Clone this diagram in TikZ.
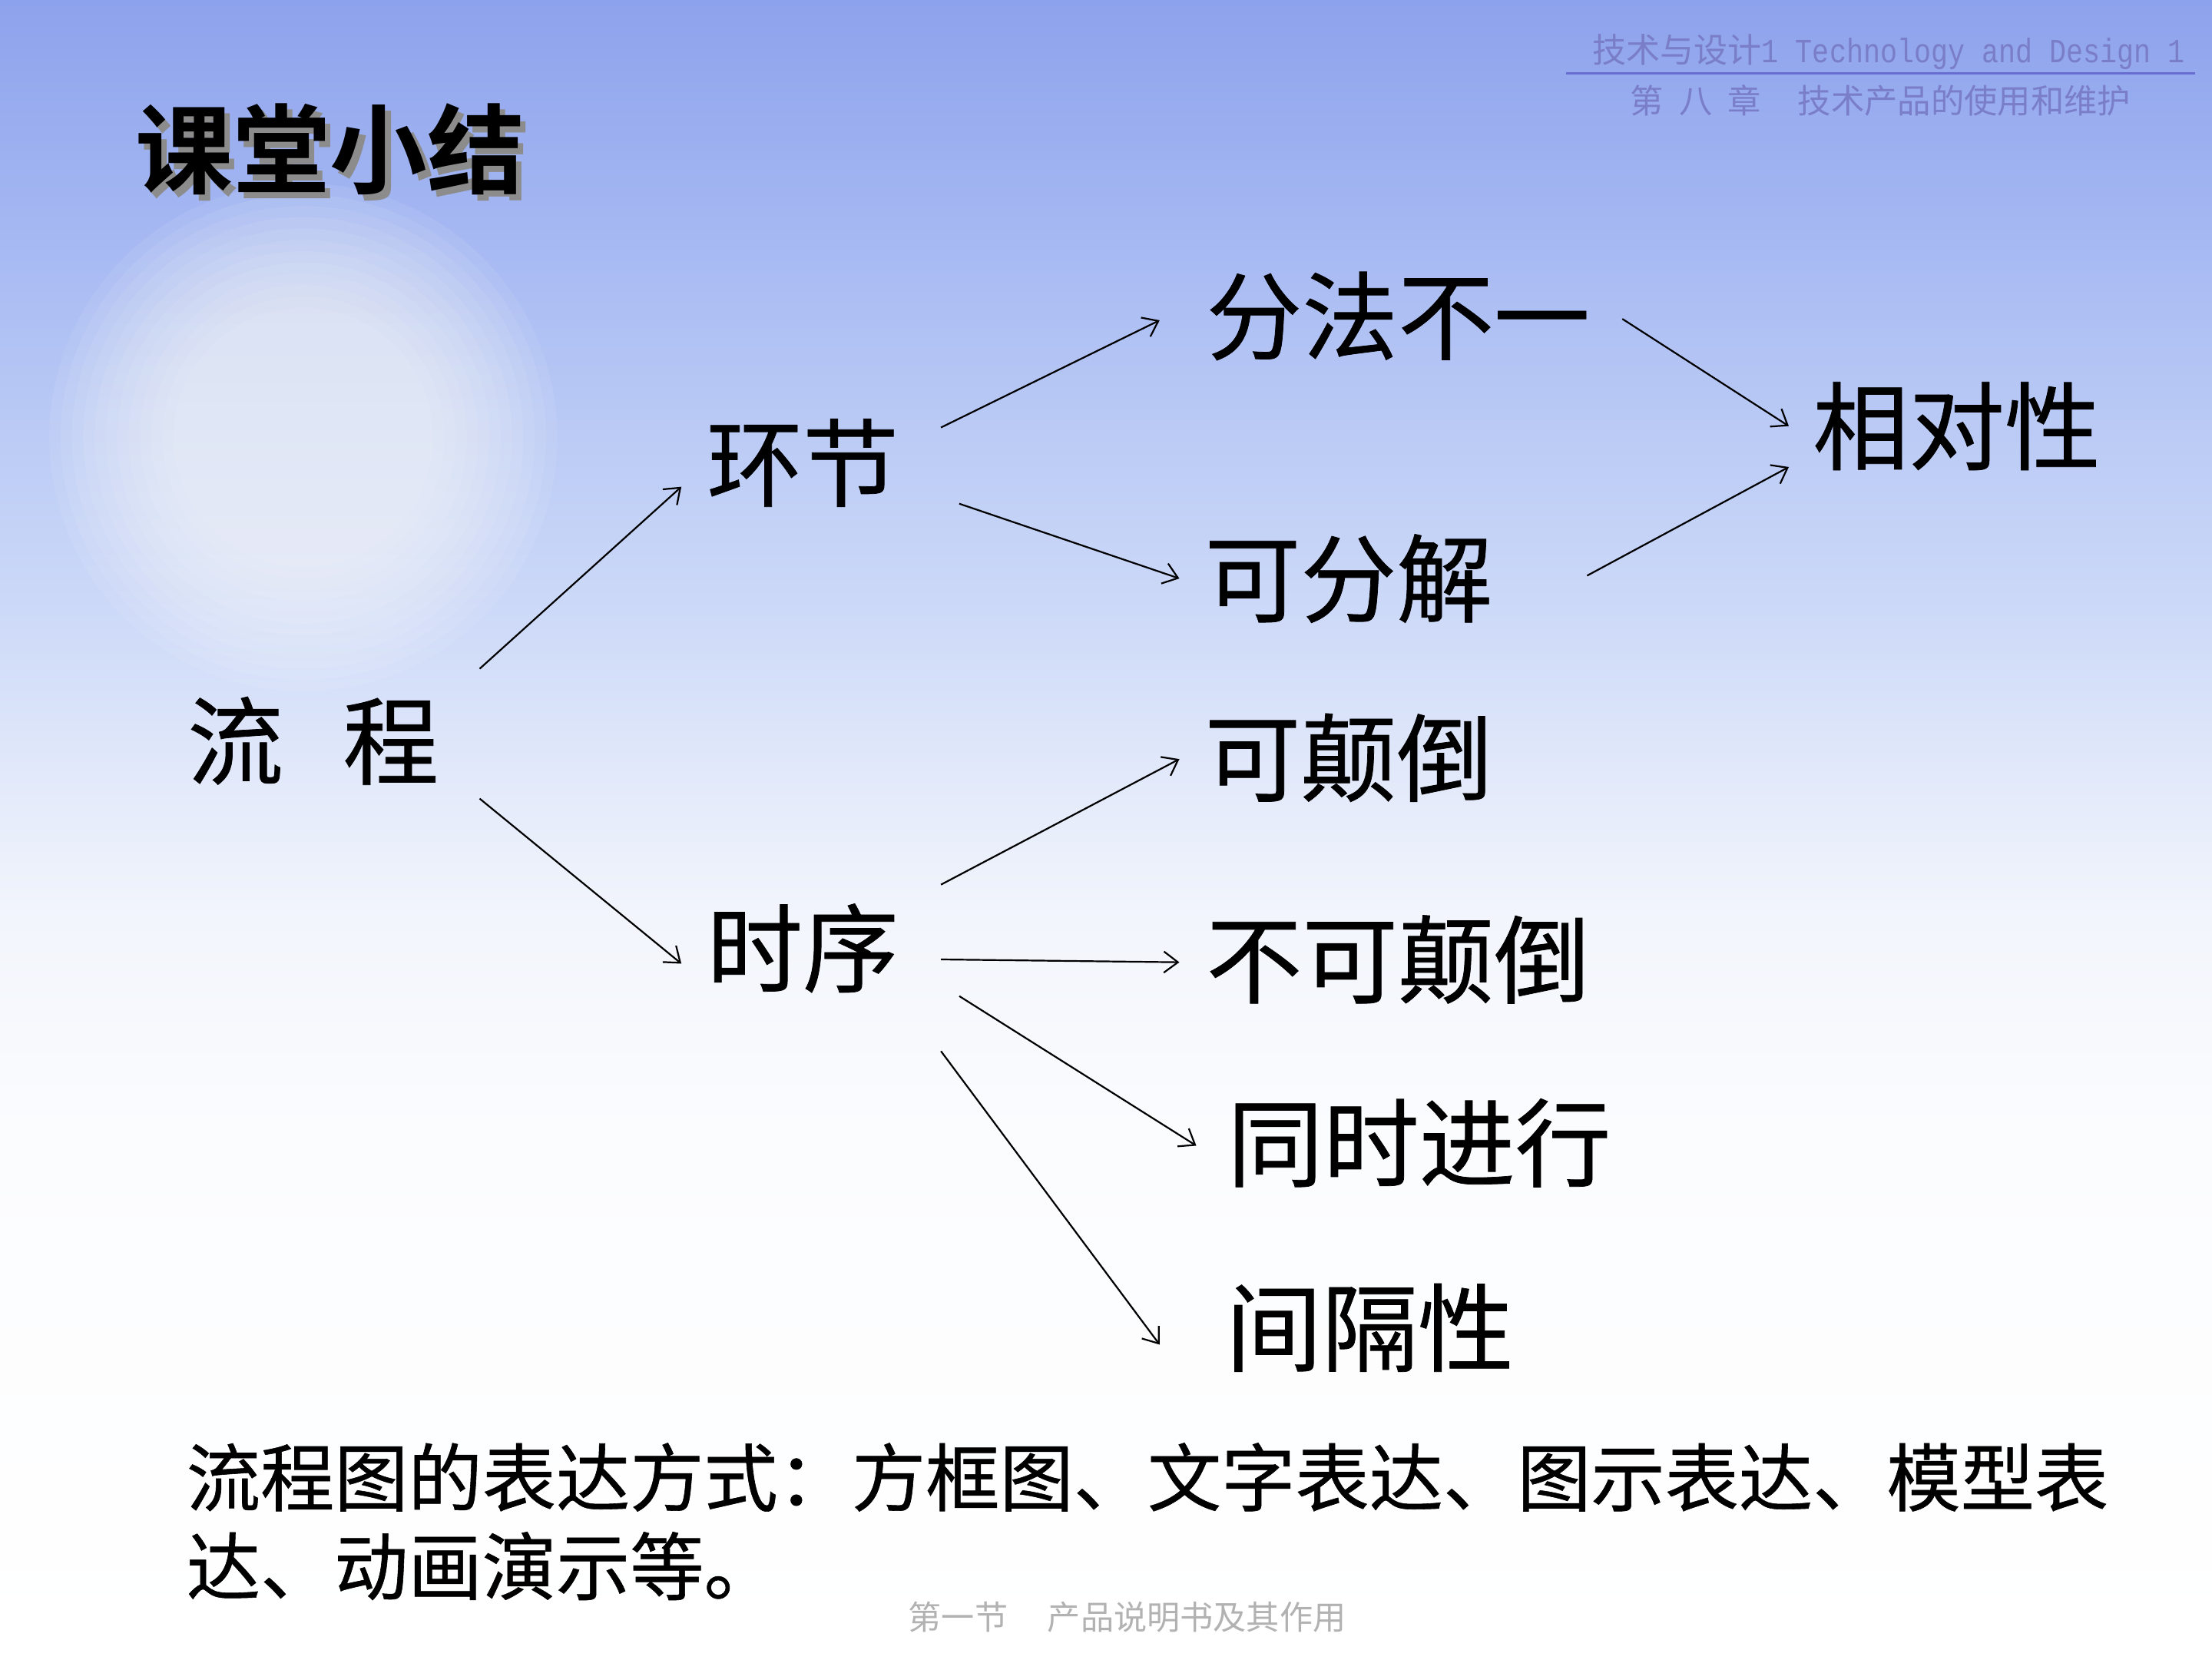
\documentclass[tikz,border=0pt]{standalone}
\usepackage{fontspec}
\setmainfont{Noto Sans CJK SC}[BoldFont=* Bold]
\newfontfamily\heavy{Noto Sans CJK SC}[FakeBold=0.6]
\newfontfamily\mono{Liberation Mono}
\usetikzlibrary{arrows.meta}
\definecolor{bga}{RGB}{141,162,236}
\definecolor{bgb}{RGB}{163,182,242}
\definecolor{bgc}{RGB}{186,202,245}
\definecolor{bgd}{RGB}{207,219,248}
\definecolor{bge}{RGB}{226,233,250}
\definecolor{bgf}{RGB}{242,245,252}
\definecolor{bgg}{RGB}{251,252,254}
\definecolor{hdr}{RGB}{122,126,200}
\definecolor{hdrline}{RGB}{104,108,206}
\definecolor{footgray}{RGB}{178,178,178}
\pgfdeclareverticalshading{bgshade}{100bp}{color(0bp)=(white); color(25bp)=(white); color(41bp)=(bgg); color(47.4bp)=(bgf); color(51.6bp)=(bge); color(55.9bp)=(bgd); color(62.2bp)=(bgc); color(68.6bp)=(bgb); color(75bp)=(bga); color(100bp)=(bga)}
\tikzset{
  big/.style={font=\heavy\fontsize{68}{80}\selectfont, inner sep=0pt},
  arr/.style={-{Straight Barb[length=10pt,width=15pt]}, line width=1.2pt, black},
}
\begin{document}
\begin{tikzpicture}[x=1pt,y=-1pt]
\useasboundingbox (0,0) rectangle (1568,1176);
\shade[shading=bgshade] (0,0) rectangle (1568,1176);
% sun glow
\foreach \r in {180,172,164,156,148,140,132,124,116,108,100,92}
  \fill[white,opacity=0.075] (215,310) circle[radius=\r pt];

% header
\node[anchor=east, inner sep=0pt, text=hdr, font=\fontsize{24}{28}\selectfont] (hdra) at (1549,37)
  {技术与设计\scalebox{0.833}[1]{\mono 1 Technology and Design 1}};
\coordinate (hla) at (1110,52);
\coordinate (hlb) at (1556,52);
\draw[hdrline, line width=2pt] (hla) -- (hlb);
\node[inner sep=0pt, text=hdr, font=\fontsize{23.6}{28}\selectfont] (hdrb) at (1333,71)
  {第\hspace{11pt}八\hspace{11pt}章\hspace{26pt}技术产品的使用和维护};

% title with shadow
\node[inner sep=0pt, font=\fontsize{69}{80}\selectfont\bfseries] (title) at (234,108)
  {\rlap{\kern4pt\raisebox{-4pt}{\textcolor{black!45}{课堂小结}}}课堂小结};

% main nodes
\node[big] (lc) at (222,525) {流\hspace{0.62em}程};
\node[big] (hj) at (569,328) {环节};
\node[big] (sx) at (569,672) {时序};
\node[big] (ff) at (991,224) {分法不一};
\node[big] (kf) at (956,410) {可分解};
\node[big] (xd) at (1387,302) {相对性};
\node[big] (kd) at (956,537) {可颠倒};
\node[big] (bk) at (991,680) {不可颠倒};
\node[big] (ts) at (1006,810) {同时进行};
\node[big] (jg) at (971,941) {间隔性};

% connectors
\draw[arr] ([shift={(118,-51)}]lc.center) -- ([shift={(-86,17)}]hj.center);
\draw[arr] ([shift={(118,41)}]lc.center) -- ([shift={(-86,11)}]sx.center);
\draw[arr] ([shift={(98,-25)}]hj.center) -- ([shift={(-169,3)}]ff.center);
\draw[arr] ([shift={(111,29)}]hj.center) -- ([shift={(-120,0)}]kf.center);
\draw[arr] ([shift={(159,2)}]ff.center) -- ([shift={(-119,0)}]xd.center);
\draw[arr] ([shift={(169,-2)}]kf.center) -- ([shift={(-119,29)}]xd.center);
\draw[arr] ([shift={(98,-45)}]sx.center) -- ([shift={(-120,1)}]kd.center);
\draw[arr] ([shift={(98,8)}]sx.center) -- ([shift={(-155,2)}]bk.center);
\draw[arr] ([shift={(111,34)}]sx.center) -- ([shift={(-158,2)}]ts.center);
\draw[arr] ([shift={(98,73)}]sx.center) -- ([shift={(-149,12)}]jg.center);

% bottom note
\node[anchor=base west, inner sep=0pt, font=\heavy\fontsize{52.4}{63}\selectfont] (notea) at (132,1067)
  {流程图的表达方式：方框图、文字表达、图示表达、模型表};
\node[anchor=base west, inner sep=0pt, font=\heavy\fontsize{52.4}{63}\selectfont] (noteb) at (132,1130)
  {达、动画演示等。};

% footer
\node[inner sep=0pt, text=footgray, font=\fontsize{23.5}{26}\selectfont] (foot) at (799,1146)
  {第一节\hspace{1.2em}产品说明书及其作用};
\end{tikzpicture}
\end{document}
